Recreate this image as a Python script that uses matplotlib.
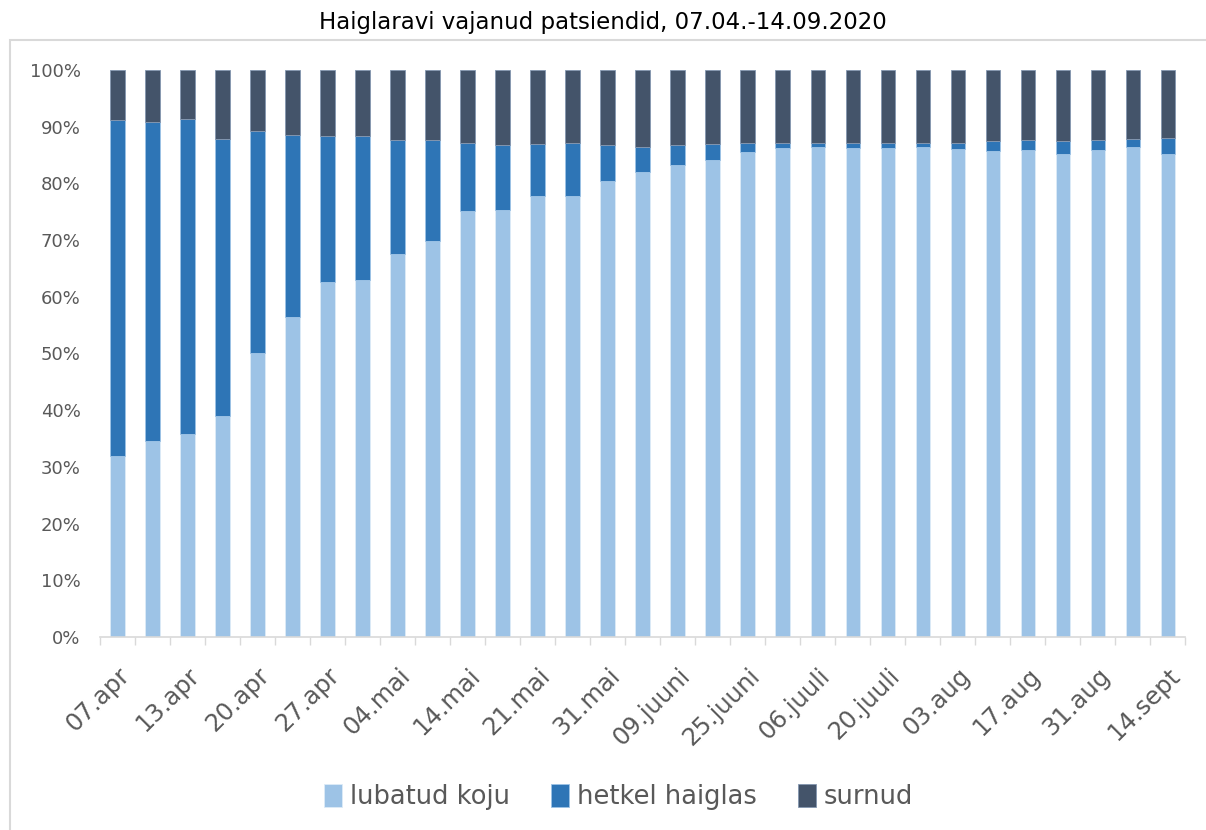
import matplotlib.pyplot as plt
import numpy as np
from matplotlib.patches import Rectangle
from matplotlib.ticker import PercentFormatter
from matplotlib.transforms import ScaledTranslation

# andmed (loetud pildilt), protsendid kumulatiivselt
lubatud_koju = [32.0, 34.6, 35.8, 38.9, 50.0, 56.4, 62.6, 63.0, 67.6, 69.8,
                75.2, 75.3, 77.7, 77.7, 80.4, 82.0, 83.2, 84.1, 85.5, 86.2,
                86.4, 86.3, 86.3, 86.5, 86.1, 85.7, 85.8, 85.1, 85.8, 86.4, 85.1]
haiglas_kuni = [91.2, 90.8, 91.4, 87.9, 89.2, 88.5, 88.3, 88.4, 87.7, 87.7,
                87.2, 86.7, 86.9, 87.2, 86.7, 86.5, 86.7, 86.9, 87.1, 87.1,
                87.2, 87.2, 87.2, 87.2, 87.2, 87.4, 87.6, 87.5, 87.7, 87.8, 88.0]
tick_labels = ["07.apr", "13.apr", "20.apr", "27.apr", "04.mai", "14.mai",
               "21.mai", "31.mai", "09.juuni", "25.juuni", "06.juuli",
               "20.juuli", "03.aug", "17.aug", "31.aug", "14.sept"]

koju = np.array(lubatud_koju)
haiglas = np.array(haiglas_kuni) - koju
surnud = 100 - np.array(haiglas_kuni)
x = np.arange(len(koju))

c_koju = "#9DC3E6"
c_haiglas = "#2E75B6"
c_surnud = "#44546A"
txt = "#595959"

fig = plt.figure(figsize=(12.06, 8.30), dpi=100)
ax = fig.add_axes([0.083, 0.2325, 0.9, 0.6832])

w = 0.42
ax.bar(x, koju, w, color=c_koju, edgecolor="#DDEBF7", linewidth=0.6, label="lubatud koju")
ax.bar(x, haiglas, w, bottom=koju, color=c_haiglas, edgecolor="#9DC3E6", linewidth=0.6,
       label="hetkel haiglas")
ax.bar(x, surnud, w, bottom=koju + haiglas, color=c_surnud, edgecolor="#8497B0",
       linewidth=0.6, label="surnud")

ax.set_xlim(-0.5, len(x) - 0.5)
ax.set_ylim(0, 100)
ax.yaxis.set_major_formatter(PercentFormatter(decimals=0))
ax.set_yticks(np.arange(0, 101, 10))
ax.tick_params(axis="y", length=0, labelsize=13, colors=txt, pad=14)

ax.set_xticks(x[::2])
ax.set_xticklabels(tick_labels, rotation=45, ha="right", rotation_mode="anchor",
                   fontsize=17.5, color=txt)
nihe = ScaledTranslation(-6 / 100, 0, fig.dpi_scale_trans)
for lbl in ax.get_xticklabels():
    lbl.set_transform(lbl.get_transform() + nihe)
ax.set_xticks(np.arange(-0.5, len(x), 1), minor=True)
ax.tick_params(axis="x", which="major", length=0, pad=19)
ax.tick_params(axis="x", which="minor", length=6, color="#D9D9D9", width=1)

for s in ["top", "right", "left"]:
    ax.spines[s].set_visible(False)
ax.spines["bottom"].set_color("#D9D9D9")
ax.spines["bottom"].set_linewidth(1.2)

fig.text(0.5, 0.973, "Haiglaravi vajanud patsiendid, 07.04.-14.09.2020",
         ha="center", va="center", fontsize=16.5, color="black")

fig.legend(loc="center", bbox_to_anchor=(0.513, 0.04), ncol=3, frameon=False,
           fontsize=18.5, handlelength=0.7, handleheight=1.0, handletextpad=0.3,
           columnspacing=1.6, labelcolor=txt)

# diagrammi raam
fig.patches.append(Rectangle((10 / 1206, -0.01), 1.0, 1 - 40 / 830 + 0.01,
                             transform=fig.transFigure, fill=False,
                             edgecolor="#D9D9D9", linewidth=1.5))

fig.savefig("out.png", dpi=100)
